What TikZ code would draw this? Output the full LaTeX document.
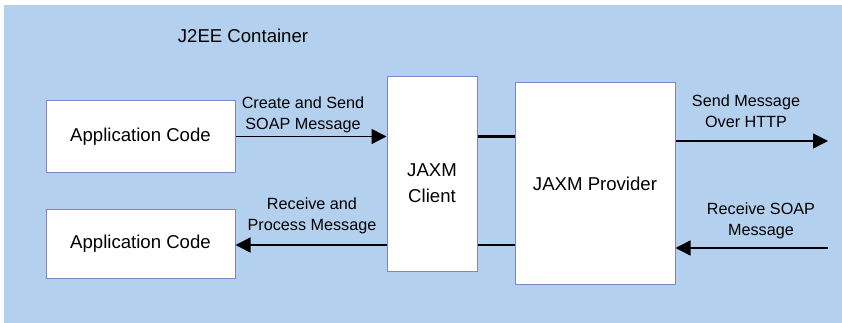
\documentclass[tikz,border=0pt]{standalone}
\usepackage{fontspec}
\setmainfont{Liberation Sans}
\usetikzlibrary{arrows.meta}
\usetikzlibrary{positioning}

\begin{document}
\begin{tikzpicture}[x=1pt, y=-1pt]
  \definecolor{container}{RGB}{179,209,238}
  \definecolor{boxedge}{RGB}{130,130,196}
  \tikzset{
    box/.style={draw=boxedge, fill=white, line width=1pt, inner sep=0pt, align=center,
      font=\fontsize{18.6}{26}\selectfont},
    msg/.style={inner sep=0pt, align=center, font=\fontsize{16.2}{21}\selectfont},
    flow/.style={line width=1.5pt, -{Triangle[length=15pt, width=15pt]}},
  }

  \def\appw{189}
  \def\outx{828}

  \useasboundingbox (0,0) rectangle (842,323);

  % container
  \fill[container] (4,5) rectangle (842,323);
  \node[inner sep=0pt, font=\fontsize{18.6}{22}\selectfont] (j2ee) at (243,36) {J2EE Container};

  % boxes
  \node[box, minimum width=\appw, minimum height=71] (appsend) at (140.5,136.5) {Application Code};
  \node[box, minimum width=\appw, minimum height=69] (apprecv) at (140.5,243.5) {Application Code};
  \node[box, minimum width=90, minimum height=194] (client) at (432,174) {};
  \node[inner sep=0pt, align=center, font=\fontsize{18.6}{26}\selectfont] (clientlbl) at (432,183) {JAXM\\Client};
  \node[box, minimum width=160, minimum height=201] (provider) at (595,183.5) {JAXM Provider};

  % client side
  \draw[flow] (appsend.east) -- (client.west |- appsend.east);
  \draw[flow] (client.west |- 0,245) -- (apprecv.east |- 0,245);
  \node[msg] (createlbl) at (303,115) {Create and Send\\SOAP Message};
  \node[msg] (processlbl) at (312,216) {Receive and\\Process Message};

  % client to provider
  \draw[line width=2.5pt] (client.east |- appsend.east) -- (provider.west |- appsend.east);
  \draw[line width=1.5pt] (client.east |- 0,245) -- (provider.west |- 0,245);

  % provider to the outside
  \coordinate (httpout) at (\outx,141);
  \coordinate (soapin) at (\outx,248);
  \draw[flow] (provider.east |- httpout) -- (httpout);
  \draw[flow] (soapin) -- (provider.east |- soapin);
  \node[msg] (sendlbl) at (746,111.5) {Send Message\\Over HTTP};
  \node[msg] (soaplbl) at (761,220.5) {Receive SOAP\\Message};

\end{tikzpicture}
\end{document}
